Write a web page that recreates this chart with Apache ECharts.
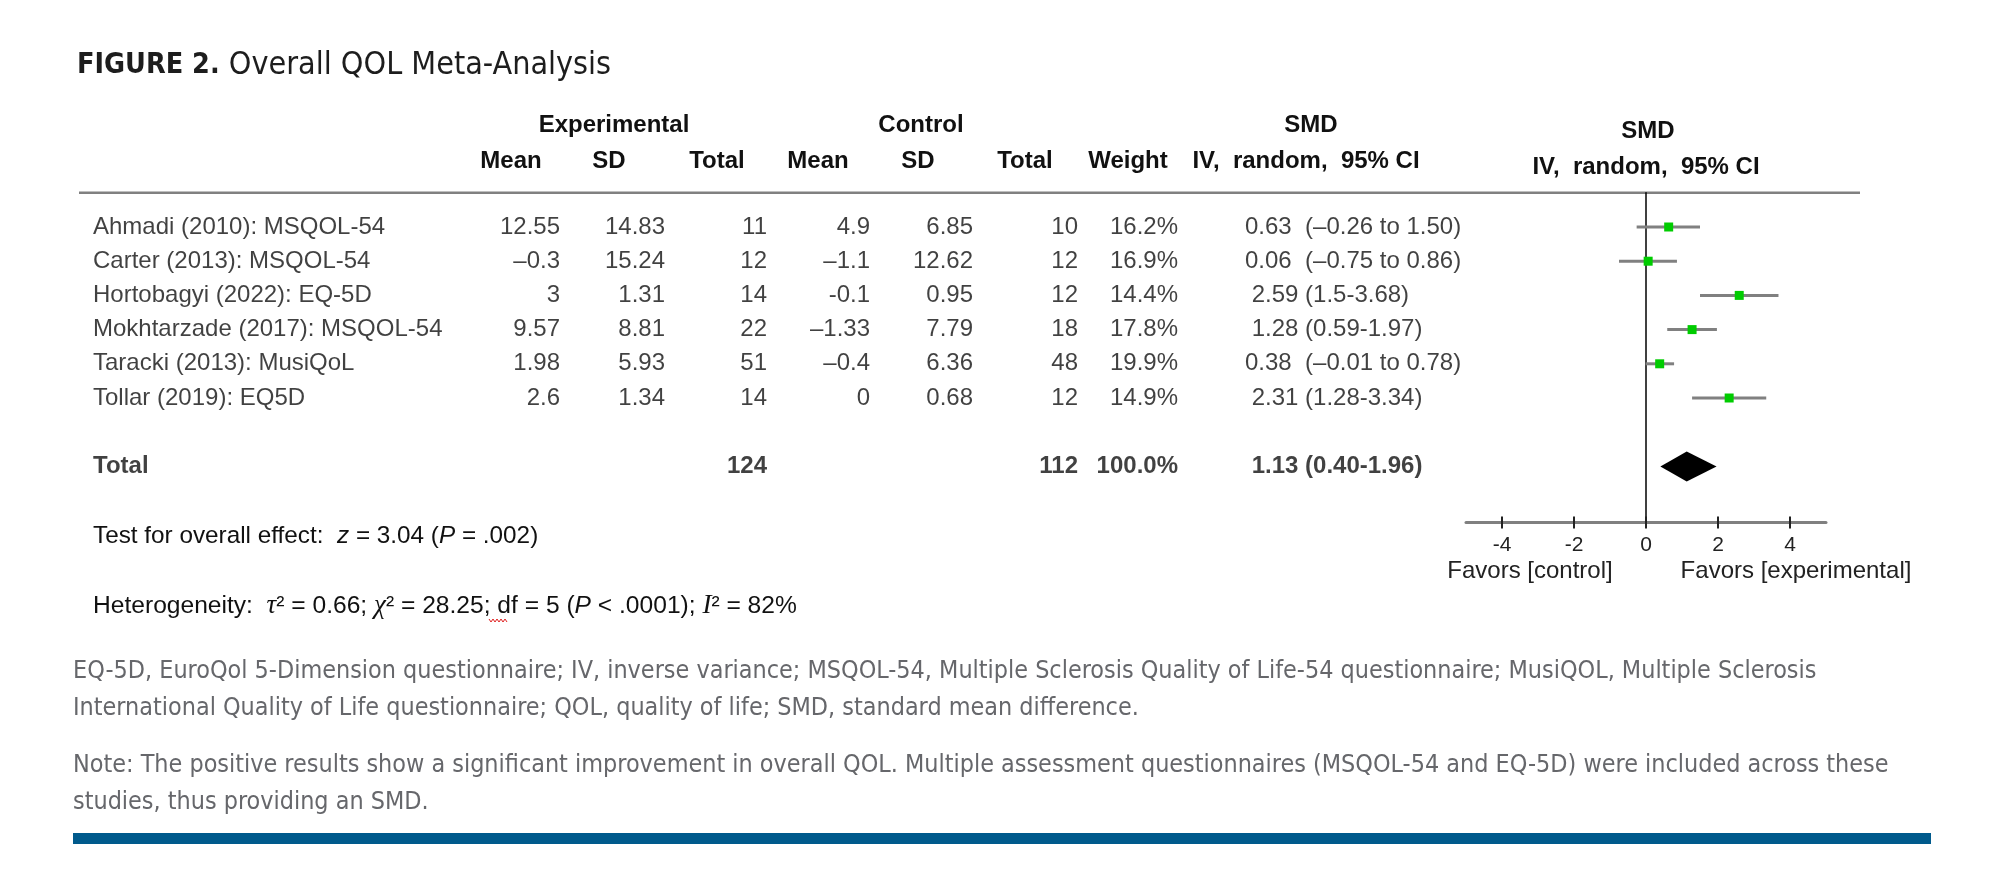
<!DOCTYPE html>
<html>
<head>
<meta charset="utf-8">
<script src="https://cdn.jsdelivr.net/npm/echarts@6/dist/echarts.min.js"></script>
<style>
html,body{margin:0;padding:0;background:#fff;}
#c{width:2002px;height:870px;}
</style>
</head>
<body>
<div id="c"></div>
<script>
// ---------------- DATA ----------------
const studies = ['Ahmadi (2010): MSQOL-54','Carter (2013): MSQOL-54','Hortobagyi (2022): EQ-5D','Mokhtarzade (2017): MSQOL-54','Taracki (2013): MusiQoL','Tollar (2019): EQ5D'];
const expMean = ['12.55','–0.3','3','9.57','1.98','2.6'];
const expSD = ['14.83','15.24','1.31','8.81','5.93','1.34'];
const expN = ['11','12','14','22','51','14'];
const ctrlMean = ['4.9','–1.1','-0.1','–1.33','–0.4','0'];
const ctrlSD = ['6.85','12.62','0.95','7.79','6.36','0.68'];
const ctrlN = ['10','12','12','18','48','12'];
const weights = ['16.2%','16.9%','14.4%','17.8%','19.9%','14.9%'];
const ciText = ['0.63  (–0.26 to 1.50)','0.06  (–0.75 to 0.86)',' 2.59 (1.5-3.68)',' 1.28 (0.59-1.97)','0.38  (–0.01 to 0.78)',' 2.31 (1.28-3.34)'];
const smd = [0.63, 0.06, 2.59, 1.28, 0.38, 2.31];
const ciLow = [-0.26, -0.75, 1.5, 0.59, -0.01, 1.28];
const ciHigh = [1.50, 0.86, 3.68, 1.97, 0.78, 3.34];
const totalLabel = 'Total';
const totalExpN = '124';
const totalCtrlN = '112';
const totalWeight = '100.0%';
const totalCiText = '1.13 (0.40-1.96)';
const pooled = {est: 1.13, low: 0.40, high: 1.96};
const xTicks = [-4, -2, 0, 2, 4];
const favorLabels = ['Favors [control]', 'Favors [experimental]'];

// ---------------- LAYOUT ----------------
const W = 2002;
const ROW_PX = 34.2, ROW0_Y = 227, TOTAL_ROW = 7;
const AXIS_Y = 522.5;
const COL = {name:93, expMean:560, expSD:665, expN:767, ctrlMean:870, ctrlSD:973, ctrlN:1078, weight:1178, ci:1245};
const SANS = '"Liberation Sans", Arial, sans-serif';
const COND = '"DejaVu Sans Condensed", "Liberation Sans Narrow", sans-serif';
const FS = 24;

function cellSeries(values, x, align, bold, startRow) {
  return {
    type: 'scatter', xAxisIndex: 0, yAxisIndex: 0, symbolSize: 0, silent: true,
    data: values.map((v, i) => [x, (startRow || 0) + i, v]),
    label: {
      show: true, position: 'inside', align: align, verticalAlign: 'middle',
      formatter: p => p.value[2],
      fontFamily: SANS, fontSize: FS, color: '#111', fontWeight: bold ? 'bold' : 'normal'
    }
  };
}

const chart = echarts.init(document.getElementById('c'), null, {renderer: 'canvas'});

const series = [
  cellSeries(studies, COL.name, 'left'),
  cellSeries(expMean, COL.expMean, 'right'),
  cellSeries(expSD, COL.expSD, 'right'),
  cellSeries(expN, COL.expN, 'right'),
  cellSeries(ctrlMean, COL.ctrlMean, 'right'),
  cellSeries(ctrlSD, COL.ctrlSD, 'right'),
  cellSeries(ctrlN, COL.ctrlN, 'right'),
  cellSeries(weights, COL.weight, 'right'),
  cellSeries(ciText, COL.ci, 'left'),
  cellSeries([totalLabel], COL.name, 'left', true, TOTAL_ROW),
  cellSeries([totalExpN], COL.expN, 'right', true, TOTAL_ROW),
  cellSeries([totalCtrlN], COL.ctrlN, 'right', true, TOTAL_ROW),
  cellSeries([totalWeight], COL.weight, 'right', true, TOTAL_ROW),
  cellSeries([' ' + totalCiText], COL.ci, 'left', true, TOTAL_ROW),
  // CI whiskers
  {
    type: 'custom', xAxisIndex: 1, yAxisIndex: 1, silent: true, z: 3,
    data: studies.map((s, i) => [ciLow[i], ciHigh[i], i]),
    encode: {x: [0, 1], y: 2},
    renderItem: (params, api) => {
      const a = api.coord([api.value(0), api.value(2)]);
      const b = api.coord([api.value(1), api.value(2)]);
      return {type: 'line', shape: {x1: a[0], y1: a[1], x2: b[0], y2: b[1]},
        style: {stroke: '#808080', lineWidth: 3}};
    }
  },
  // point estimates
  {
    type: 'scatter', xAxisIndex: 1, yAxisIndex: 1, silent: true, z: 5,
    symbol: 'rect', symbolSize: 9,
    itemStyle: {color: '#00cc00', opacity: 1},
    data: smd.map((v, i) => [v, i])
  },
  // pooled diamond
  {
    type: 'custom', xAxisIndex: 1, yAxisIndex: 1, silent: true, z: 5,
    data: [[pooled.low, pooled.est, pooled.high, TOTAL_ROW]],
    encode: {x: [0, 1, 2], y: 3},
    renderItem: (params, api) => {
      const y = api.value(3);
      const l = api.coord([api.value(0), y]);
      const c = api.coord([api.value(1), y]);
      const r = api.coord([api.value(2), y]);
      const h = 15;
      return {type: 'polygon', shape: {points: [[l[0], l[1]], [c[0], c[1] - h], [r[0], r[1]], [c[0], c[1] + h]]},
        style: {fill: '#000'}};
    }
  }
];

const HB = 'bold 24px ' + SANS;
function head(text, x, y) {
  return {type: 'text', x: x, y: y, style: {text: text, align: 'center', verticalAlign: 'middle', font: HB, fill: '#111'}};
}

const option = {
  animation: false,
  backgroundColor: '#fff',
  grid: [
    {left: 0, width: W, top: ROW0_Y - 4 * ROW_PX, height: 16 * ROW_PX},
    {left: 1466, width: 360, top: ROW0_Y - ROW_PX, height: AXIS_Y - (ROW0_Y - ROW_PX)}
  ],
  xAxis: [
    {gridIndex: 0, type: 'value', min: 0, max: W, show: false},
    {gridIndex: 1, type: 'value', min: -5, max: 5, position: 'bottom',
      axisLine: {show: true, onZero: false, lineStyle: {color: '#808080', width: 3}},
      axisTick: {show: true, customValues: xTicks, length: 6, lineStyle: {color: '#222', width: 2}},
      axisLabel: {show: true, customValues: xTicks, margin: 12, fontFamily: SANS, fontSize: 21, color: '#222'},
      splitLine: {show: false}},
    {gridIndex: 1, type: 'value', min: -5, max: 5, position: 'bottom',
      axisLine: {show: false, onZero: false},
      axisTick: {show: true, inside: true, customValues: xTicks, length: 6, lineStyle: {color: '#222', width: 2}},
      axisLabel: {show: false}, splitLine: {show: false}}
  ],
  yAxis: [
    {gridIndex: 0, type: 'value', inverse: true, min: -4, max: 12, show: false},
    {gridIndex: 1, type: 'value', inverse: true, min: -1, max: (AXIS_Y - ROW0_Y) / ROW_PX,
      axisLine: {show: true, onZero: true, lineStyle: {color: '#000', width: 1.5}},
      axisTick: {show: false}, axisLabel: {show: false}, splitLine: {show: false}}
  ],
  series: series,
  graphic: [
    // title
    {type: 'text', x: 77, y: 66, style: {
      text: '{b|FIGURE 2.}{r| Overall QOL Meta-Analysis}', verticalAlign: 'middle',
      rich: {
        b: {fontFamily: COND, fontSize: 28.5, fontWeight: 'bold', fill: '#1d1d1d'},
        r: {fontFamily: COND, fontSize: 32, fill: '#1d1d1d'}
      }}},
    // header rows
    head('Experimental', 614, 125.5),
    head('Control', 921, 125.5),
    head('SMD', 1311, 125.5),
    head('Mean', 511, 161.5),
    head('SD', 609, 161.5),
    head('Total', 717, 161.5),
    head('Mean', 818, 161.5),
    head('SD', 918, 161.5),
    head('Total', 1025, 161.5),
    head('Weight', 1128, 161.5),
    head('IV,  random,  95% CI', 1306, 161.5),
    head('SMD', 1648, 131),
    head('IV,  random,  95% CI', 1646, 167.5),
    // header rule
    {type: 'line', shape: {x1: 79, y1: ROW0_Y - ROW_PX, x2: 1860, y2: ROW0_Y - ROW_PX}, style: {stroke: '#808080', lineWidth: 2.5}},
    // favors labels
    {type: 'text', x: 1530, y: 571, style: {text: favorLabels[0], align: 'center', verticalAlign: 'middle', font: '24px ' + SANS, fill: '#222'}},
    {type: 'text', x: 1796, y: 571, style: {text: favorLabels[1], align: 'center', verticalAlign: 'middle', font: '24px ' + SANS, fill: '#222'}},
    // statistics
    {type: 'text', x: 93, y: 536, style: {
      text: '{n|Test for overall effect:  }{i|z}{n| = 3.04 (}{i|P}{n| = .002)}', verticalAlign: 'middle',
      rich: {n: {fontFamily: SANS, fontSize: 24.3, fill: '#111'}, i: {fontFamily: SANS, fontSize: 24.3, fontStyle: 'italic', fill: '#111'}}}},
    {type: 'text', x: 93, y: 606, style: {
      text: '{n|Heterogeneity:  }{g|τ}{n|² = 0.66; }{g|χ}{n|² = 28.25; df = 5 (}{i|P}{n| < .0001); }{g|I}{n|² = 82%}', verticalAlign: 'middle',
      rich: {n: {fontFamily: SANS, fontSize: 24.6, fill: '#111'}, i: {fontFamily: SANS, fontSize: 24.6, fontStyle: 'italic', fill: '#111'},
        g: {fontFamily: '"Liberation Serif", serif', fontSize: 27, fontStyle: 'italic', fill: '#111'}}}},
    {type: 'polyline', shape: {points: [[489,619],[491,622],[493,619],[495,622],[497,619],[499,622],[501,619],[503,622],[505,619],[507,622]]}, style: {stroke: '#e02020', lineWidth: 1, fill: null}},
    // footnotes
    {type: 'text', x: 73, y: 672, style: {text: 'EQ-5D, EuroQol 5-Dimension questionnaire; IV, inverse variance; MSQOL-54, Multiple Sclerosis Quality of Life-54 questionnaire; MusiQOL, Multiple Sclerosis', verticalAlign: 'middle', font: '24.9px ' + COND, fill: '#66676b'}},
    {type: 'text', x: 73, y: 709, style: {text: 'International Quality of Life questionnaire; QOL, quality of life; SMD, standard mean difference.', verticalAlign: 'middle', font: '24.9px ' + COND, fill: '#66676b'}},
    {type: 'text', x: 73, y: 766, style: {text: 'Note: The positive results show a significant improvement in overall QOL. Multiple assessment questionnaires (MSQOL-54 and EQ-5D) were included across these', verticalAlign: 'middle', font: '24.9px ' + COND, fill: '#66676b'}},
    {type: 'text', x: 73, y: 803, style: {text: 'studies, thus providing an SMD.', verticalAlign: 'middle', font: '24.9px ' + COND, fill: '#66676b'}},
    // blue rule
    {type: 'rect', shape: {x: 73, y: 833, width: 1858, height: 11}, style: {fill: '#005a8c'}}
  ]
};
chart.setOption(option);
</script>
</body>
</html>
